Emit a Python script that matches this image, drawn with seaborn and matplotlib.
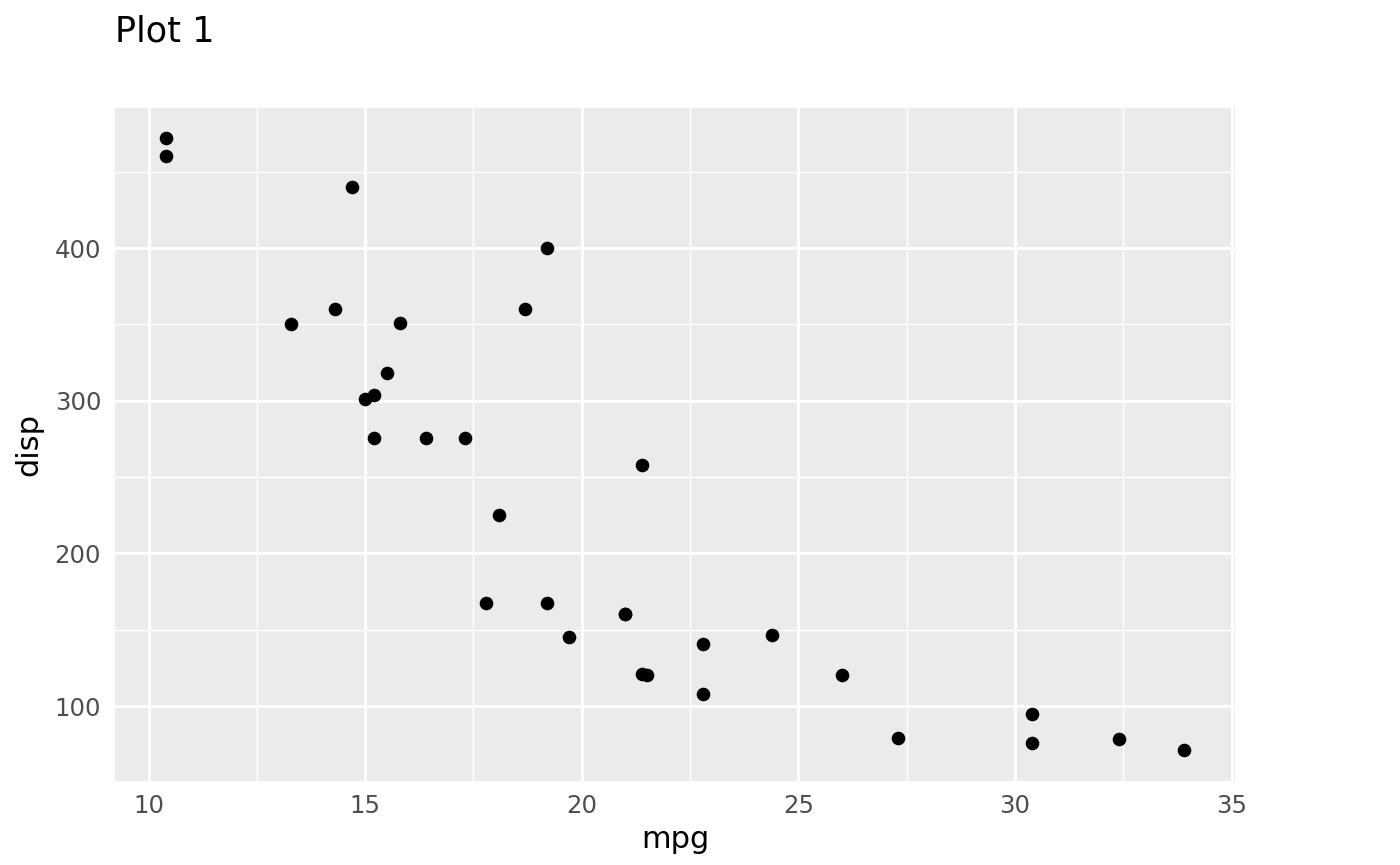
import matplotlib
matplotlib.use("Agg")
import matplotlib.pyplot as plt
import seaborn as sns
import pandas as pd

# mtcars: miles per gallon and displacement
mpg = [21.0, 21.0, 22.8, 21.4, 18.7, 18.1, 14.3, 24.4, 22.8, 19.2, 17.8,
       16.4, 17.3, 15.2, 10.4, 10.4, 14.7, 32.4, 30.4, 33.9, 21.5, 15.5,
       15.2, 13.3, 19.2, 27.3, 26.0, 30.4, 15.8, 19.7, 15.0, 21.4]
disp = [160, 160, 108, 258, 360, 225, 360, 146.7, 140.8, 167.6, 167.6,
        275.8, 275.8, 275.8, 472, 460, 440, 78.7, 75.7, 71.1, 120.1, 318,
        304, 350, 400, 79, 120.3, 95.1, 351, 145, 301, 121]
x_ticks = [10, 15, 20, 25, 30, 35]
x_minor = [12.5, 17.5, 22.5, 27.5, 32.5]
y_ticks = [100, 200, 300, 400]
y_minor = [150, 250, 350, 450]

df = pd.DataFrame({"mpg": mpg, "disp": disp})

sns.set_style("white")
plt.rcParams["font.family"] = ["DejaVu Sans"]

fig = plt.figure(figsize=(7, 4.325), dpi=200)
ax = fig.add_axes([0.0821, 0.0974, 0.8, 0.7783])
ax.set_facecolor("#EBEBEB")

sns.scatterplot(data=df, x="mpg", y="disp", ax=ax, color="black",
                s=24, linewidth=0, zorder=3)

# ggplot-style expanded limits (5%)
xr = max(mpg) - min(mpg)
yr = max(disp) - min(disp)
ax.set_xlim(min(mpg) - 0.05 * xr, max(mpg) + 0.05 * xr)
ax.set_ylim(min(disp) - 0.05 * yr, max(disp) + 0.05 * yr)

ax.set_xticks(x_ticks)
ax.set_yticks(y_ticks)
ax.set_xticks(x_minor, minor=True)
ax.set_yticks(y_minor, minor=True)
ax.grid(True, which="major", color="white", linewidth=1.07, zorder=1)
ax.grid(True, which="minor", color="white", linewidth=0.53, zorder=1)
ax.set_axisbelow(True)
for s in ax.spines.values():
    s.set_visible(False)

ax.tick_params(which="major", length=2.75, width=1.07, color="#333333",
               labelcolor="#4D4D4D", labelsize=8.8, pad=2.2)
ax.tick_params(which="minor", length=0)

ax.set_xlabel("mpg", fontsize=11, color="black", labelpad=2.5)
ax.set_ylabel("disp", fontsize=11, color="black", labelpad=4)

fig.text(115 / 1400, 1 - 41.7 / 865, "Plot 1", fontsize=12.6,
         color="black", ha="left", va="baseline")

fig.savefig("out.png", dpi=200)
